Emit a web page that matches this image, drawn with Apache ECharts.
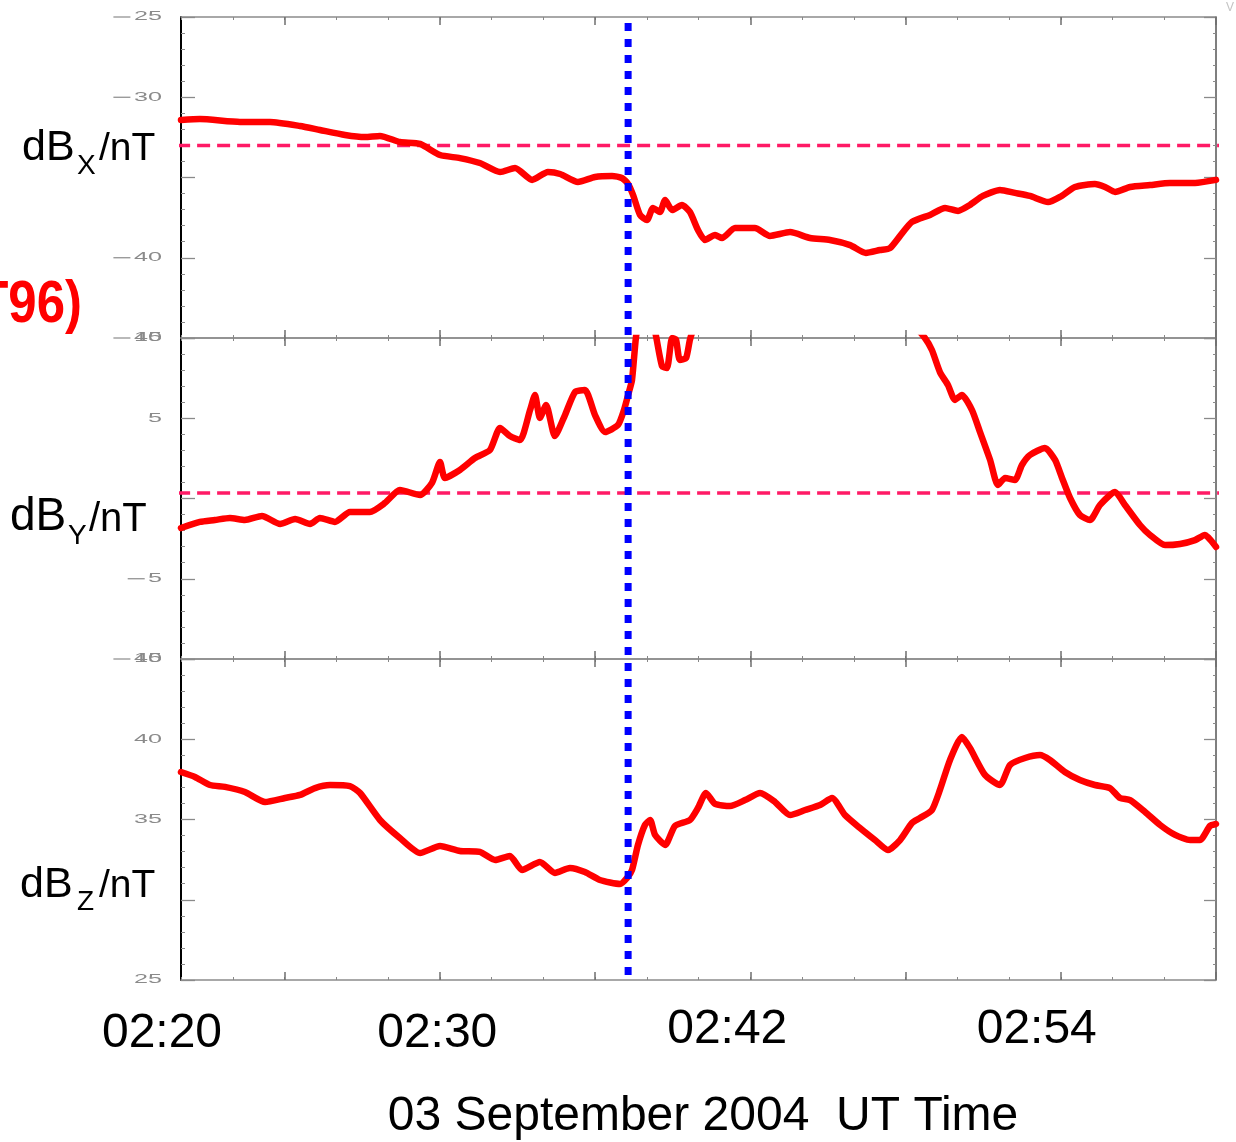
<!DOCTYPE html>
<html><head><meta charset="utf-8">
<script src="https://cdn.jsdelivr.net/npm/echarts@6/dist/echarts.min.js"></script>
<style>html,body{margin:0;padding:0;background:#fff}#c{width:1236px;height:1142px}</style>
</head><body><div id="c"></div>
<script>
// time in minutes after 02:20 UT, 03 September 2004
const bxT = [0,0.73,2.28,3.44,4.60,5.37,6.34,7.11,7.69,8.46,9.24,10.01,10.78,11.55,12.33,12.91,13.57,14.18,14.65,15.34,16.00,16.66,17.04,17.28,17.47,17.74,18.01,18.24,18.51,18.71,18.98,19.36,19.67,19.98,20.25,20.64,20.91,21.41,22.18,22.76,23.54,24.31,25.08,25.86,26.47,27.01,27.40,27.79,28.25,28.95,29.53,30.03,30.49,30.99,31.65,32.23,32.81,33.51,33.97,34.55,35.32,35.71,36.10,36.68,37.45,38.22,39.19,40.00];
const bxV = [-31.42,-31.36,-31.54,-31.54,-31.79,-32.04,-32.35,-32.48,-32.41,-32.79,-32.91,-33.6,-33.79,-34.1,-34.66,-34.41,-35.15,-34.66,-34.78,-35.28,-34.97,-34.91,-35.03,-35.4,-36.08,-37.33,-37.65,-36.9,-37.15,-36.4,-37.03,-36.71,-37.15,-38.27,-38.89,-38.58,-38.77,-38.15,-38.15,-38.64,-38.4,-38.77,-38.89,-39.21,-39.7,-39.52,-39.4,-38.64,-37.77,-37.33,-36.9,-37.08,-36.71,-36.15,-35.78,-35.96,-36.15,-36.53,-36.21,-35.59,-35.4,-35.59,-35.9,-35.59,-35.47,-35.34,-35.34,-35.15];

const byT = [0,0.73,1.31,1.89,2.47,3.13,3.83,4.41,4.99,5.37,5.95,6.53,7.30,7.88,8.46,9.24,9.70,10.01,10.20,10.78,11.36,11.94,12.33,12.71,13.10,13.49,13.68,13.87,14.11,14.45,14.84,15.23,15.61,16.00,16.39,16.89,17.12,17.28,17.43,17.58,17.75,18.05,18.36,18.59,18.78,18.98,19.13,19.28,19.52,19.67,19.83,21.0,23.0,25.0,27.0,28.3,28.75,29.02,29.33,29.64,29.91,30.18,30.57,30.88,31.27,31.57,31.85,32.23,32.50,32.81,33.39,33.78,34.05,34.36,34.74,35.13,35.52,36.10,36.48,37.06,37.45,38.03,38.61,39.19,39.57,40.00];
const byV = [-1.84,-1.46,-1.34,-1.21,-1.34,-1.09,-1.59,-1.28,-1.59,-1.21,-1.46,-0.84,-0.84,-0.28,0.53,0.22,0.97,2.27,1.28,1.78,2.52,3.02,4.39,3.89,3.64,5.51,6.45,5.02,5.83,3.89,5.2,6.64,6.76,5.2,4.14,4.58,5.51,6.45,7.38,10.0,11.5,12.3,10.1,8.25,8.13,10.0,9.9,8.63,8.75,9.9,10.6,13.0,14.5,14.0,12.5,10.8,10.0,9.25,7.88,7.07,6.14,6.45,5.51,4.14,2.4,0.84,1.28,1.15,2.09,2.71,3.15,2.4,1.28,0.03,-1.03,-1.34,-0.4,0.4,-0.4,-1.65,-2.27,-2.9,-2.83,-2.59,-2.27,-3.02];

const bzT = [0,0.54,1.12,1.70,2.47,3.25,4.02,4.60,5.18,5.76,6.53,6.92,7.69,8.46,9.24,10.01,10.78,11.55,12.14,12.71,13.18,13.87,14.45,15.03,15.61,16.19,16.97,17.24,17.43,17.66,17.93,18.13,18.32,18.71,19.09,19.67,19.98,20.29,20.64,21.22,21.80,22.38,22.96,23.54,24.12,24.70,25.16,25.66,26.24,26.82,27.32,27.79,28.25,28.56,29.02,29.33,29.72,30.18,30.49,31.07,31.65,32.04,32.62,33.20,33.58,34.16,34.74,35.32,35.90,36.29,36.68,37.26,37.84,38.42,39.00,39.38,39.77,40.00];
const bzV = [37.96,37.65,37.15,37.03,36.71,36.09,36.34,36.53,36.96,37.15,37.08,36.65,34.97,33.85,32.91,33.35,33.04,32.98,32.48,32.73,31.85,32.35,31.67,31.98,31.73,31.23,30.98,31.36,31.85,33.41,34.66,34.97,34.04,33.41,34.6,34.97,35.72,36.65,35.97,35.84,36.21,36.65,36.09,35.28,35.59,35.9,36.34,35.28,34.47,33.72,33.1,33.72,34.78,35.09,35.59,36.84,38.71,40.14,39.46,37.78,37.15,38.4,38.83,39.02,38.71,37.96,37.46,37.15,36.96,36.34,36.21,35.47,34.66,34.04,33.72,33.72,34.6,34.72];

// reference (dashed) levels and span in minutes
const bxRef = -33.0;
const byRef = 0.35;
const refSpan = [-0.15, 40.8];
// event time (blue dotted line), minutes after 02:20
const eventT = 17.28;

// axes
const xRange = [0, 40];
const xMajorTicks = [4, 10, 16, 22, 28, 34, 40];
const xLabelTimes = [0, 10, 22, 34];
const xLabelText = ['02:20', '02:30', '02:42', '02:54'];
const xTitle = '03 September 2004  UT Time';
const yRanges = [[-45, -25], [-10, 10], [25, 45]];
const yLabelVals = [[-25, -30, -40, -45], [10, 5, -5, -10], [45, 40, 35, 25]];
const panelNames = [['dB', 'X', '/nT'], ['dB', 'Y', '/nT'], ['dB', 'Z', '/nT']];
const modelText = '(T96)';

const FONT = '"Liberation Sans", Arial, sans-serif';
const zip = (t, v) => t.map((x, i) => [x, v[i]]);

const chart = echarts.init(document.getElementById('c'), null, {renderer: 'canvas'});

const grids = [0, 1, 2].map(g => ({left: 181, top: 17 + g * 321, width: 1035, height: 321}));

function xAx(g, pos, major) {
  return {
    type: 'value', gridIndex: g, position: pos, min: xRange[0], max: xRange[1], interval: 2,
    axisLine: {show: !major, onZero: false, lineStyle: {color: '#8c8c8c', width: 1.5}},
    axisTick: major
      ? {show: true, inside: true, length: 8, customValues: xMajorTicks, lineStyle: {color: '#6f6f6f', width: 1.5}}
      : {show: true, inside: true, length: 3, lineStyle: {color: '#888', width: 1}},
    axisLabel: {show: false}, splitLine: {show: false}
  };
}
const xAxes = [];
for (let g = 0; g < 3; g++) {
  xAxes.push(xAx(g, 'bottom', false), xAx(g, 'bottom', true), xAx(g, 'top', false), xAx(g, 'top', true));
}
const labelPad = [[4, 38, 0, 0], [4, 5, 0, 0], [0, 46, 4, 0], [0, 48, 4, 0]];
const xRich = {};
labelPad.forEach((p, i) => { xRich['l' + i] = {fontSize: 48, fontFamily: FONT, color: '#000', padding: p}; });
Object.assign(xAxes[9], {
  axisLabel: {
    show: true, customValues: xLabelTimes, margin: 26, verticalAlign: 'top',
    formatter: v => { const i = xLabelTimes.indexOf(v); return '{l' + i + '|' + xLabelText[i] + '}'; },
    rich: xRich
  },
  name: xTitle, nameLocation: 'middle', nameGap: 113,
  nameTextStyle: {fontSize: 48, fontFamily: FONT, color: '#000', padding: [0, 0, 0, 9]}
});

function yAx(g, pos) {
  const left = pos === 'left';
  return {
    type: 'value', gridIndex: g, position: pos, min: yRanges[g][0], max: yRanges[g][1], interval: 5,
    axisLine: {show: true, onZero: false, lineStyle: {color: left ? '#000' : '#555', width: left ? 2 : 1.5}},
    axisTick: {show: true, inside: true, length: left ? 14 : 12, lineStyle: {color: '#8a8a8a', width: 1.3}},
    minorTick: {show: true, splitNumber: 5, length: left ? 4 : 3, lineStyle: {color: '#8a8a8a', width: 1}},
    axisLabel: {show: false},
    splitLine: {show: false}, minorSplitLine: {show: false}
  };
}
const yAxes = [];
for (let g = 0; g < 3; g++) yAxes.push(yAx(g, 'left'), yAx(g, 'right'));

const redLine = (g, data) => ({
  type: 'line', xAxisIndex: g * 4, yAxisIndex: g * 2, data, symbol: 'none', smooth: 0.2,
  lineStyle: {color: '#ff0000', width: 6.5, cap: 'round', join: 'round'}, z: 3, silent: true
});
const refLine = (g, v) => ({
  type: 'line', xAxisIndex: g * 4, yAxisIndex: g * 2, data: refSpan.map(t => [t, v]), symbol: 'none', clip: false,
  lineStyle: {color: '#ff1a66', width: 3.5, type: [13, 7]}, z: 2, silent: true
});

chart.setOption({
  animation: false,
  backgroundColor: '#fff',
  grid: grids,
  xAxis: xAxes,
  yAxis: yAxes,
  series: [
    refLine(0, bxRef), redLine(0, zip(bxT, bxV)),
    refLine(1, byRef), redLine(1, zip(byT, byV)),
    redLine(2, zip(bzT, bzV))
  ]
});

const ex = chart.convertToPixel({xAxisIndex: 0}, eventT);
const axisLeftPx = chart.convertToPixel({xAxisIndex: 0}, xRange[0]);

const graphics = [];
// y tick labels (stretched thin gray digits, as in the original plot)
yLabelVals.forEach((vals, g) => {
  vals.forEach(v => {
    const py = chart.convertToPixel({yAxisIndex: g * 2}, v);
    const digits = String(Math.abs(v));
    const right = axisLeftPx - 19;
    graphics.push({type: 'text', x: right, y: py, scaleX: 2.1, z: 40,
      style: {text: digits, fontSize: 12, fontFamily: FONT, fill: '#8a8a8a',
        align: 'right', verticalAlign: 'middle'}});
    if (v < 0) {
      const x2 = right - digits.length * 14.3 - 3;
      graphics.push({type: 'line', z: 40, shape: {x1: x2 - 17, y1: py, x2: x2, y2: py},
        style: {stroke: '#8a8a8a', lineWidth: 1.2}});
    }
  });
});

// panel label pieces: [x, capCenterY] for main, sub, unit
const labelPos = [
  [[22, 148], [77, 166], [99, 149.5]],
  [[10, 517.5], [68, 536], [89, 519.5]],
  [[20, 885], [77, 902], [99, 886.5]]
];
const labelSize = [[43, 28, 39], [46, 28, 40], [43, 28, 39]];
panelNames.forEach((parts, g) => {
  parts.forEach((txt, k) => {
    graphics.push({type: 'text', x: labelPos[g][k][0], y: labelPos[g][k][1], z: 50,
      style: {text: txt, fontSize: labelSize[g][k], fontFamily: FONT, fill: '#000', verticalAlign: 'middle', align: 'left'}});
  });
});
graphics.push({type: 'text', x: 82, y: 305, scaleX: 0.85, z: 50,
  style: {text: modelText, fontSize: 60, fontWeight: 'bold', fontFamily: FONT, fill: '#ff0000', align: 'right', verticalAlign: 'middle'}});
graphics.push({type: 'text', x: 1226, y: 2, z: 50,
  style: {text: 'V', fontSize: 12, fontFamily: FONT, fill: '#c4c4c4', align: 'left', verticalAlign: 'top'}});
graphics.push({type: 'line', z: 100, shape: {x1: ex, y1: 23, x2: ex, y2: 975},
  style: {stroke: '#0000ff', lineWidth: 7, lineDash: [8, 8]}});

chart.setOption({graphic: graphics});
</script>
</body></html>
